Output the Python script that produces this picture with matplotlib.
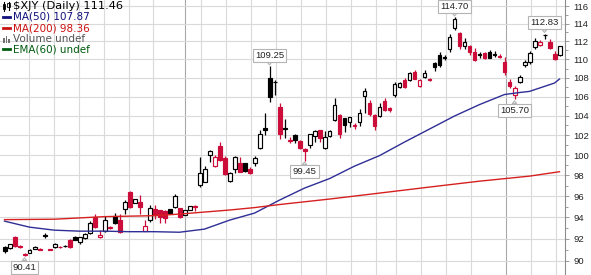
"""$XJY daily candlestick chart with MA(50) / MA(200) overlays, StockCharts style."""
import numpy as np
import matplotlib
matplotlib.use("Agg")
import matplotlib.pyplot as plt
from matplotlib.lines import Line2D
from matplotlib.patches import Rectangle
from matplotlib.transforms import Affine2D
from matplotlib.ticker import FixedLocator, FixedFormatter, NullFormatter

TICKER = "$XJY (Daily)"
PREV_CLOSE = 90.80          # close of the day before the first candle (sets first colour)

# --- daily OHLC ----------------------------------------------------------------
opens = [91.22, 91.13, 92.13, 91.32, 90.60, 90.73, 91.09, 91.10, 92.31, 91.08,
         91.22, 91.30, 91.36, 91.94, 92.19, 91.70, 92.06, 92.54, 94.07, 92.13,
         92.70, 93.06, 94.11, 93.79, 94.74, 96.40, 95.36, 95.43, 92.74, 93.73,
         94.74, 94.64, 94.58, 94.74, 94.98, 94.83, 94.24, 94.72, 95.10, 97.05,
         97.38, 100.03, 98.92, 100.96, 99.67, 97.47, 98.64, 99.18, 99.18, 98.59,
         99.18, 100.71, 102.75, 107.97, 107.60, 104.90, 102.70, 101.55, 102.00, 101.41,
         100.60, 101.00, 101.92, 102.50, 100.71, 101.92, 103.55, 104.05, 103.72, 103.38,
         103.08, 103.38, 106.10, 105.29, 104.10, 103.97, 105.50, 104.80, 106.16, 107.00,
         107.76, 107.76, 108.60, 107.10, 108.06, 107.90, 109.64, 110.47, 110.25, 111.10,
         113.46, 112.96, 111.50, 111.48, 110.78, 110.55, 110.70, 110.85, 110.60, 110.38,
         109.75, 107.58, 106.17, 107.58, 109.40, 109.66, 111.34, 111.60, 112.72, 111.96,
         110.60, 110.48]
highs = [91.34, 91.55, 92.26, 91.40, 90.70, 91.05, 91.33, 91.15, 92.50, 91.12,
         91.60, 91.33, 91.45, 92.00, 92.25, 92.15, 92.50, 93.66, 94.30, 92.80,
         94.11, 93.15, 94.40, 94.30, 95.62, 96.50, 95.75, 96.06, 93.73, 95.14,
         95.14, 94.70, 94.70, 94.80, 96.20, 94.90, 94.70, 95.10, 95.20, 99.80,
         98.92, 100.56, 100.00, 101.30, 99.90, 98.30, 99.90, 99.84, 99.25, 98.79,
         99.90, 102.58, 104.27, 109.25, 107.80, 105.33, 103.65, 101.80, 102.10, 101.50,
         100.70, 102.17, 102.50, 102.55, 102.43, 102.56, 105.85, 104.20, 103.80, 103.90,
         103.20, 104.65, 106.92, 105.63, 104.20, 105.37, 105.80, 104.90, 107.55, 107.50,
         108.00, 108.60, 108.87, 107.85, 108.80, 108.00, 109.75, 110.76, 110.45, 112.82,
         114.70, 113.06, 112.35, 111.55, 111.20, 110.80, 110.85, 111.00, 110.90, 110.55,
         110.23, 107.84, 107.10, 108.30, 109.93, 110.96, 112.40, 112.10, 112.83, 112.20,
         110.95, 111.50]
lows = [90.73, 91.05, 91.30, 91.15, 90.41, 90.68, 91.05, 90.98, 92.05, 90.98,
        91.18, 91.20, 91.25, 91.20, 91.90, 91.57, 92.00, 92.45, 93.00, 92.05,
        92.60, 92.90, 93.35, 92.55, 94.30, 94.86, 95.30, 94.33, 92.70, 93.60,
        93.80, 93.45, 93.45, 94.30, 94.90, 93.95, 94.20, 94.65, 94.60, 96.90,
        97.35, 99.33, 98.85, 99.40, 98.03, 97.40, 98.26, 98.30, 98.35, 98.10,
        98.92, 100.58, 102.07, 105.40, 106.15, 101.58, 101.67, 101.20, 101.20, 100.60,
        99.45, 100.70, 101.34, 101.34, 100.60, 101.85, 103.45, 101.68, 102.37, 102.80,
        102.60, 102.95, 104.30, 103.97, 102.55, 103.90, 104.50, 104.40, 105.95, 106.90,
        106.90, 107.70, 107.85, 107.05, 107.95, 107.70, 108.74, 109.20, 109.90, 110.85,
        113.27, 111.10, 111.10, 110.48, 109.80, 110.20, 110.00, 110.10, 110.30, 110.15,
        108.30, 106.88, 105.70, 107.40, 109.20, 109.50, 111.10, 111.50, 112.30, 111.10,
        109.92, 110.40]
closes = [90.91, 91.49, 91.36, 91.24, 90.52, 90.97, 91.27, 91.03, 92.26, 91.02,
          91.52, 91.25, 91.31, 91.27, 91.94, 92.13, 92.45, 93.48, 93.05, 92.40,
          93.73, 92.98, 93.45, 92.64, 95.46, 94.98, 95.69, 94.92, 93.18, 94.83,
          94.20, 94.01, 93.89, 94.36, 96.04, 94.04, 94.64, 95.05, 94.98, 98.26,
          98.59, 100.43, 99.83, 99.50, 98.13, 98.20, 99.84, 98.36, 98.42, 98.20,
          99.67, 102.17, 102.50, 106.00, 107.55, 102.17, 102.60, 101.45, 101.55, 100.74,
          100.40, 102.10, 102.43, 101.68, 101.82, 102.43, 105.10, 102.10, 103.03, 103.83,
          102.98, 104.30, 106.60, 104.17, 102.95, 104.90, 104.60, 104.55, 107.30, 107.43,
          107.00, 108.48, 107.90, 107.80, 108.55, 107.80, 109.21, 109.43, 110.15, 112.44,
          114.47, 111.48, 111.89, 110.78, 109.93, 110.45, 110.10, 110.20, 110.52, 110.30,
          108.66, 107.12, 106.88, 108.05, 109.76, 110.74, 112.07, 111.96, 112.65, 111.22,
          110.00, 111.46]

# --- moving averages, read at a few candles --------------------------------------
ma50_at = [0, 5, 10, 15, 20, 25, 30, 35, 40, 45, 50, 55, 60, 65, 70, 75, 80, 85,
           90, 95, 100, 103, 105, 110, 111]
ma50 = [93.64, 93.08, 92.80, 92.71, 92.71, 92.66, 92.66, 92.61, 92.90, 93.73,
        94.39, 95.62, 96.77, 97.69, 98.91, 99.95, 101.31, 102.63, 103.97, 105.16,
        106.22, 106.43, 106.55, 107.44, 107.87]
ma200_at = [0, 10, 20, 30, 35, 40, 45, 50, 55, 65, 75, 85, 95, 105, 111]
ma200 = [93.78, 93.82, 94.06, 94.15, 94.30, 94.49, 94.68, 94.91, 95.20, 95.72,
         96.29, 96.87, 97.44, 97.93, 98.36]

y_ticks = [90, 92, 94, 96, 98, 100, 102, 104, 106, 108, 110, 112, 114, 116]
marked_highs = [53, 90, 108]
marked_lows = [4, 60, 102]

# vertical grid (weeks) and darker quarter lines, in candle units
week_lines = [4.8, 9.8, 14.8, 19.8, 24.8, 29.6, 39.2, 44.2, 49.2, 54.2, 59.2,
              64.2, 69.2, 74.2, 78.2, 83.2, 88.2, 93.2, 105.2, 110.2]
quarter_lines = [36.0, 100.2]

RED = "#cc0d3a"
NAVY = "#2e2e96"
MA_RED = "#d62020"
GRID = "#dadada"
W, H = 591, 275

fig = plt.figure(figsize=(W / 100, H / 100), dpi=100)
fig.patch.set_facecolor("white")
ax = fig.add_axes([0, 0, 565 / W, 1])
ax.set_yscale("log")
ax.set_ylim(88.75, 116.7)
ax.set_xlim(-0.9, 112.1)

for s in ("top", "left", "bottom"):
    ax.spines[s].set_visible(False)
ax.spines["right"].set_color("#8c8c8c")
ax.spines["right"].set_linewidth(0.8)

ax.yaxis.tick_right()
ax.yaxis.set_major_locator(FixedLocator(y_ticks))
ax.yaxis.set_major_formatter(FixedFormatter([str(t) for t in y_ticks]))
ax.yaxis.set_minor_locator(FixedLocator([t + 1 for t in y_ticks[:-1]]))
ax.yaxis.set_minor_formatter(NullFormatter())
ax.tick_params(axis="y", which="major", length=3, width=0.6, color="#8c8c8c",
               pad=3, labelsize=6.8, labelcolor="#222222")
ax.tick_params(axis="y", which="minor", length=2, width=0.6, color="#8c8c8c")
for lbl in ax.get_yticklabels():
    lbl.set_fontfamily("Liberation Sans")
ax.set_xticks([])

ax.grid(axis="y", which="major", color=GRID, lw=0.8)
ax.set_axisbelow(True)
for w in week_lines:
    ax.axvline(w, color=GRID, lw=0.8, zorder=0)
for q in quarter_lines:
    ax.axvline(q, color="#a9a9a9", lw=0.8, zorder=0)

# --- candles: hollow if close > open, red if close < previous close ----------
x = np.arange(len(closes))
o, h, l, c = (np.array(v) for v in (opens, highs, lows, closes))
prev = np.concatenate([[PREV_CLOSE], c[:-1]])
cols = np.where(c < prev, RED, "black")
faces = np.where(c < o, cols, "white")
ax.vlines(x, l, h, colors=cols, lw=0.9, zorder=2)
lo = np.minimum(o, c)
ht = np.maximum(np.abs(c - o), 0.02)
ax.bar(x, ht, bottom=lo, width=0.8, color=faces, edgecolor=cols, lw=0.85, zorder=3)

ax.plot(ma50_at, ma50, color=NAVY, lw=1.0, zorder=4)
ax.plot(ma200_at, ma200, color=MA_RED, lw=1.0, zorder=4)

# --- callouts on the swing highs / lows --------------------------------------
def callout(i, val, up):
    ax.annotate(f"{val:.2f}", xy=(i, val), xytext=(0, 11 if up else -11),
                textcoords="offset pixels", ha="center", va="center",
                fontsize=6.8, family="Liberation Sans", color="#222222",
                bbox=dict(boxstyle="square,pad=0.22", fc="white", ec="#b4b4b4", lw=0.8),
                arrowprops=dict(arrowstyle="wedge,tail_width=0.45", fc="white",
                                ec="#b4b4b4", lw=0.8, shrinkA=0, shrinkB=1),
                zorder=6)

for i in marked_highs:
    callout(i, highs[i], True)
for i in marked_lows:
    callout(i, lows[i], False)

# --- legend block, top left (pixel coordinates from the top-left corner) -----
pix = Affine2D().scale(1 / W, -1 / H).translate(0, 1) + fig.transFigure


def px_text(px, py, s, color, size=7.5):
    fig.text(px / W, 1 - py / H, s, color=color, fontsize=size, va="center",
             ha="left", family="DejaVu Sans")


def px_dash(py, color):
    fig.add_artist(Line2D([3, 10], [py, py], color=color, lw=2.0, transform=pix))


# small candle glyph
fig.add_artist(Line2D([4, 4], [1.5, 10.5], color="black", lw=0.8, transform=pix))
fig.add_artist(Rectangle((2.8, 3.5), 2.6, 5, fc="black", ec="black", lw=0.6, transform=pix))
fig.add_artist(Line2D([8.5, 8.5], [1.5, 9.5], color="black", lw=0.8, transform=pix))
fig.add_artist(Rectangle((7.3, 2.8), 2.6, 4.5, fc="white", ec="black", lw=0.6, transform=pix))
px_text(13, 6, f"{TICKER} {closes[-1]:.2f}", "black", size=8.2)

px_dash(16.7, "#10107a")
px_text(13, 16.7, f"MA(50) {ma50[-1]:.2f}", "#10107a")
px_dash(28.3, "#cc1010")
px_text(13, 28.3, f"MA(200) {ma200[-1]:.2f}", "#cc1010")
for bx, bh in ((3.0, 5), (5.6, 7), (8.2, 4)):
    fig.add_artist(Rectangle((bx, 42.5 - bh), 1.6, bh, fc="#707070", ec="none", transform=pix))
px_text(13, 39, "Volume undef", "#555555")
px_dash(49.3, "#005c10")
px_text(13, 49.3, "EMA(60) undef", "#005c10")

fig.savefig("out.png", dpi=100, facecolor="white")
